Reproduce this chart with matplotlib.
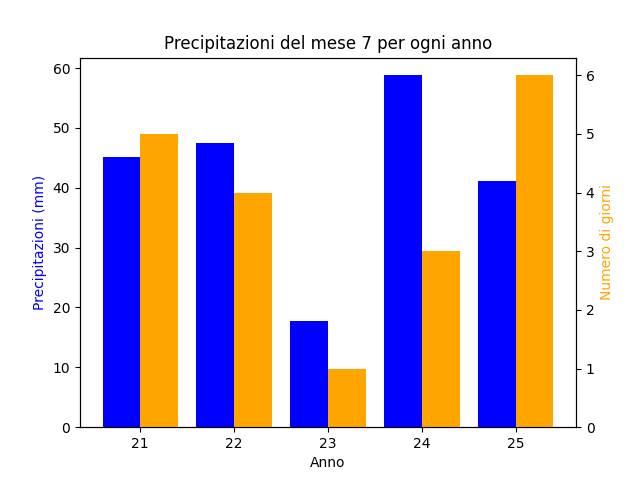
import matplotlib
matplotlib.use("Agg")
import matplotlib.pyplot as plt
import numpy as np

anni = [21, 22, 23, 24, 25]
precipitazioni = [45.2, 47.5, 17.7, 58.8, 41.1]
giorni = [5, 4, 1, 3, 6]

x = np.array(anni)
width = 0.4

fig, ax1 = plt.subplots(figsize=(6.4, 4.8), dpi=100)
ax1.bar(x - width / 2, precipitazioni, width, color="blue")
ax1.set_xlabel("Anno")
ax1.set_ylabel("Precipitazioni (mm)", color="blue")
ax1.set_xticks(x)

ax2 = ax1.twinx()
ax2.bar(x + width / 2, giorni, width, color="orange")
ax2.set_ylabel("Numero di giorni", color="orange")

plt.title("Precipitazioni del mese 7 per ogni anno")
plt.savefig("out.png")
